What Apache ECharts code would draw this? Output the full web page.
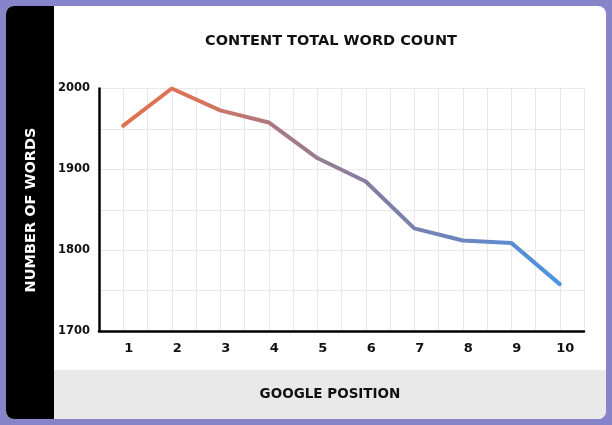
<!DOCTYPE html>
<html><head><meta charset="utf-8">
<script src="https://cdn.jsdelivr.net/npm/echarts@6/dist/echarts.min.js"></script>
<style>html,body{margin:0;padding:0;background:#8884c9;}#c{width:612px;height:425px;}</style>
</head><body><div id="c"></div>
<script>
const positions = [1, 2, 3, 4, 5, 6, 7, 8, 9, 10];
const wordCounts = [1954, 2000, 1973, 1958, 1914, 1885, 1827, 1812, 1809, 1758];
const titleText = 'CONTENT TOTAL WORD COUNT';
const yAxisTitle = 'NUMBER OF WORDS';
const xAxisTitle = 'GOOGLE POSITION';

const FONT = '"DejaVu Sans", sans-serif';
const chart = echarts.init(document.getElementById('c'));
chart.setOption({
  backgroundColor: '#8884c9',
  animation: false,
  graphic: [
    { type: 'rect', z: -10, shape: { x: 6, y: 6, width: 600, height: 413, r: 8 }, style: { fill: '#ffffff' } },
    { type: 'rect', z: -9, shape: { x: 54, y: 370, width: 552, height: 49, r: [0, 0, 8, 0] }, style: { fill: '#e9e9e9' } },
    { type: 'rect', z: -9, shape: { x: 6, y: 6, width: 48, height: 413, r: [8, 0, 0, 8] }, style: { fill: '#000000' } },
    { type: 'text', x: 331, y: 41, style: { text: titleText, fill: '#111', font: 'bold 14.5px ' + FONT, align: 'center', verticalAlign: 'middle' } },
    { type: 'text', x: 330, y: 394, style: { text: xAxisTitle, fill: '#111', font: 'bold 13.5px ' + FONT, align: 'center', verticalAlign: 'middle' } },
    { type: 'text', x: 31, y: 210, rotation: Math.PI / 2, style: { text: yAxisTitle, fill: '#fff', font: 'bold 14.5px ' + FONT, align: 'center', verticalAlign: 'middle' } }
  ],
  grid: { left: 99, right: 28, top: 88.5, bottom: 94, containLabel: false },
  xAxis: {
    type: 'value', min: 0.5, max: 10.5, interval: 0.5,
    axisLine: { show: true, onZero: false, lineStyle: { color: '#000', width: 2.5 } },
    axisTick: { show: false },
    splitLine: { show: true, lineStyle: { color: '#e8e8e8', width: 1 } },
    axisLabel: {
      margin: 11, color: '#111', fontFamily: FONT, fontWeight: 'bold', fontSize: 13,
      padding: [0, 0, 0, 11],
      formatter: v => (Math.abs(v - Math.round(v)) < 1e-6 ? String(Math.round(v)) : '')
    }
  },
  yAxis: {
    type: 'value', min: 1700, max: 2000, interval: 50,
    axisLine: { show: true, lineStyle: { color: '#000', width: 2.5 } },
    axisTick: { show: false },
    splitLine: { show: true, lineStyle: { color: '#e8e8e8', width: 1 } },
    axisLabel: {
      margin: 9, color: '#111', fontFamily: FONT, fontWeight: 'bold', fontSize: 11.5,
      formatter: v => (v % 100 === 0 ? String(v) : '')
    }
  },
  series: [{
    type: 'line',
    data: positions.map((p, i) => [p, wordCounts[i]]),
    symbol: 'none',
    clip: false,
    lineStyle: {
      width: 4, join: 'round', cap: 'round',
      color: new echarts.graphic.LinearGradient(0, 0, 1, 0, [
        { offset: 0, color: '#e2724f' },
        { offset: 0.18, color: '#d8735a' },
        { offset: 0.38, color: '#a27a88' },
        { offset: 0.6, color: '#7f7fa6' },
        { offset: 0.78, color: '#6a86c0' },
        { offset: 1, color: '#4a94e2' }
      ])
    }
  }]
});
</script></body></html>
